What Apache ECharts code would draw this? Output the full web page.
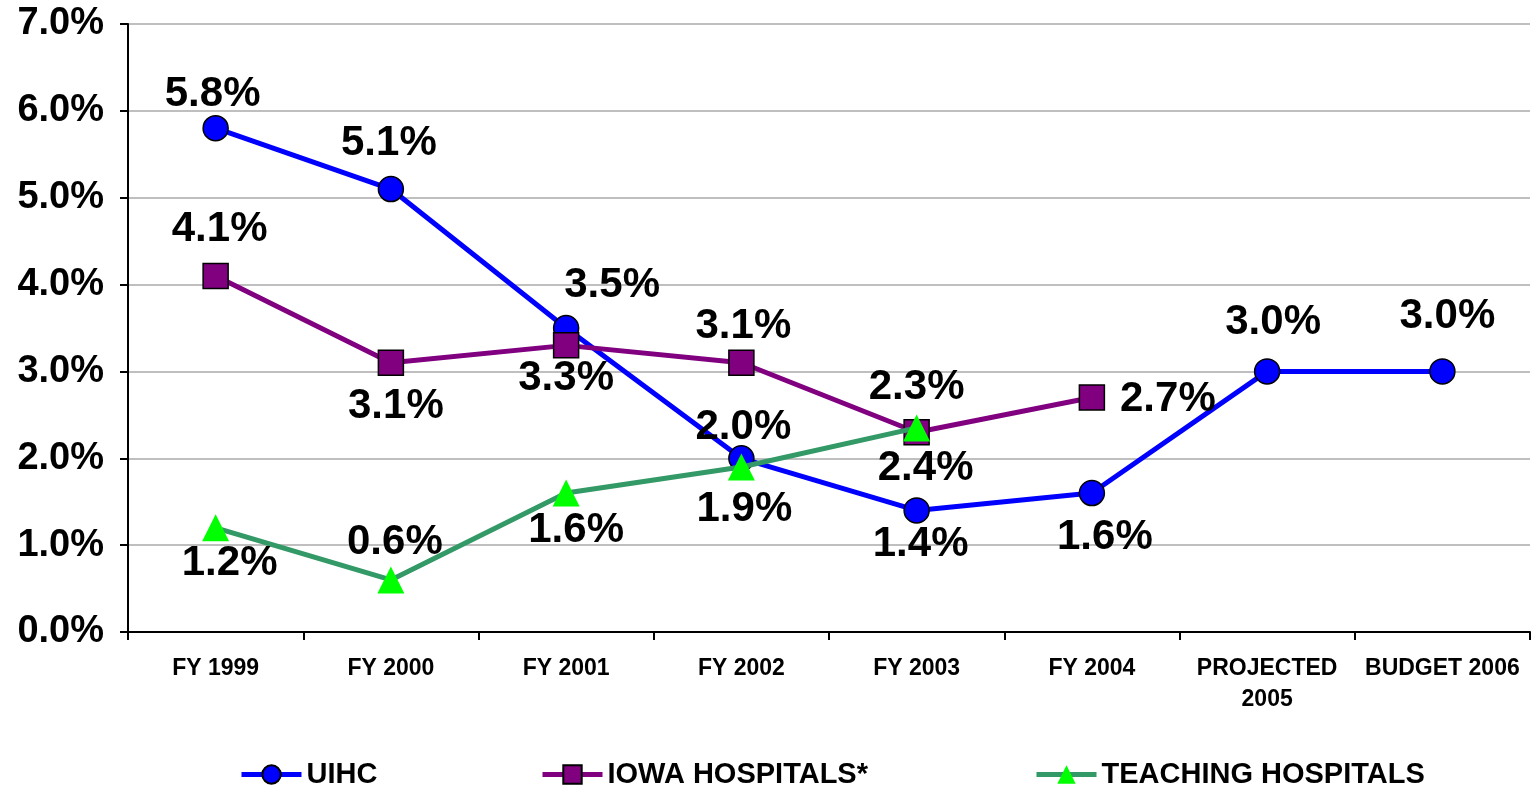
<!DOCTYPE html>
<html>
<head>
<meta charset="utf-8">
<script src="https://cdn.jsdelivr.net/npm/echarts@6/dist/echarts.min.js"></script>
<style>
  html, body { margin: 0; padding: 0; background: #fff; }
  #main { width: 1531px; height: 788px; }
</style>
</head>
<body>
<div id="main"></div>
<script>
// data (percent)
var categories = ['FY 1999', 'FY 2000', 'FY 2001', 'FY 2002', 'FY 2003', 'FY 2004', 'PROJECTED\n2005', 'BUDGET 2006'];
var uihc = [5.8, 5.1, 3.5, 2.0, 1.4, 1.6, 3.0, 3.0];
var iowaHospitals = [4.1, 3.1, 3.3, 3.1, 2.3, 2.7, null, null];
var teachingHospitals = [1.2, 0.6, 1.6, 1.9, 2.35, null, null, null];
var yTicks = [0, 1, 2, 3, 4, 5, 6, 7];

var FONT = '"Liberation Sans", Arial, sans-serif';

// label offsets from each marker (style only)
var uihcOffsets = [[-3, -34], [-2, -46], [46, -43], [2, -31], [4, 34], [13, 44], [6, -49], [5, -55]];
var iowaOffsets = [[4, -46], [5, 44], [0, 33], [2, -36], [0, -45], [76, 2]];
var teachOffsets = [[14, 36], [4, -37], [10, 37], [3, 42], [9, 41]];

function withLabels(values, offsets) {
    return values.map(function (v, i) {
        if (v == null) return null;
        return { value: v, label: { position: 'inside', offset: offsets[i] } };
    });
}

var labelStyle = {
    show: true,
    color: '#000',
    fontSize: 42,
    fontWeight: 'bold',
    fontFamily: FONT,
    formatter: function (p) { return p.value.toFixed(1) + '%'; }
};

var chart = echarts.init(document.getElementById('main'), null, { renderer: 'canvas' });

var legendText = { fontSize: 29, fontWeight: 'bold', fontFamily: FONT, color: '#000' };

var option = {
    animation: false,
    backgroundColor: '#fff',
    grid: { left: 128, right: 1, top: 24, bottom: 156, containLabel: false },
    legend: [
        { data: ['UIHC'], left: 234, top: 755, itemWidth: 60, itemHeight: 23, textStyle: legendText, lineStyle: { width: 5 } },
        { data: ['IOWA HOSPITALS*'], left: 535, top: 755, itemWidth: 60, itemHeight: 23, textStyle: legendText, lineStyle: { width: 5 } },
        { data: ['TEACHING HOSPITALS'], left: 1029, top: 755, itemWidth: 60, itemHeight: 23, textStyle: legendText, lineStyle: { width: 5 } }
    ],
    xAxis: {
        type: 'category',
        data: categories,
        boundaryGap: true,
        axisLine: { lineStyle: { color: '#000', width: 2 } },
        axisTick: { show: true, length: 8, lineStyle: { color: '#000', width: 2 } },
        axisLabel: {
            interval: 0,
            margin: 21,
            color: '#000',
            fontSize: 23,
            fontWeight: 'bold',
            fontFamily: FONT,
            lineHeight: 31
        },
        splitLine: { show: false }
    },
    yAxis: {
        type: 'value',
        min: yTicks[0],
        max: yTicks[yTicks.length - 1],
        interval: 1,
        axisLine: { show: true, lineStyle: { color: '#000', width: 2 } },
        axisTick: { show: true, length: 8, lineStyle: { color: '#000', width: 2 } },
        axisLabel: {
            margin: 24,
            color: '#000',
            fontSize: 38,
            fontWeight: 'bold',
            fontFamily: FONT,
            padding: [10, 0, 0, 0],
            formatter: function (v) { return v.toFixed(1) + '%'; }
        },
        splitLine: { show: true, lineStyle: { color: '#BFBFBF', width: 2 } }
    },
    series: [
        {
            name: 'UIHC',
            type: 'line',
            data: withLabels(uihc, uihcOffsets),
            symbol: 'circle',
            symbolSize: 25,
            lineStyle: { color: '#0000FF', width: 5 },
            itemStyle: { color: '#0000FF', borderColor: '#000', borderWidth: 1.5 },
            label: labelStyle,
            z: 2
        },
        {
            name: 'IOWA HOSPITALS*',
            type: 'line',
            data: withLabels(iowaHospitals, iowaOffsets),
            symbol: 'rect',
            symbolSize: 25,
            lineStyle: { color: '#800080', width: 5 },
            itemStyle: { color: '#800080', borderColor: '#000', borderWidth: 1.5 },
            label: labelStyle,
            z: 3
        },
        {
            name: 'TEACHING HOSPITALS',
            type: 'line',
            data: withLabels(teachingHospitals, teachOffsets),
            symbol: 'triangle',
            symbolSize: 27,
            lineStyle: { color: '#339966', width: 5 },
            itemStyle: { color: '#00FF00', borderWidth: 0 },
            label: labelStyle,
            z: 4
        }
    ]
};

chart.setOption(option);
window.addEventListener('resize', function () { chart.resize(); });
</script>
</body>
</html>
